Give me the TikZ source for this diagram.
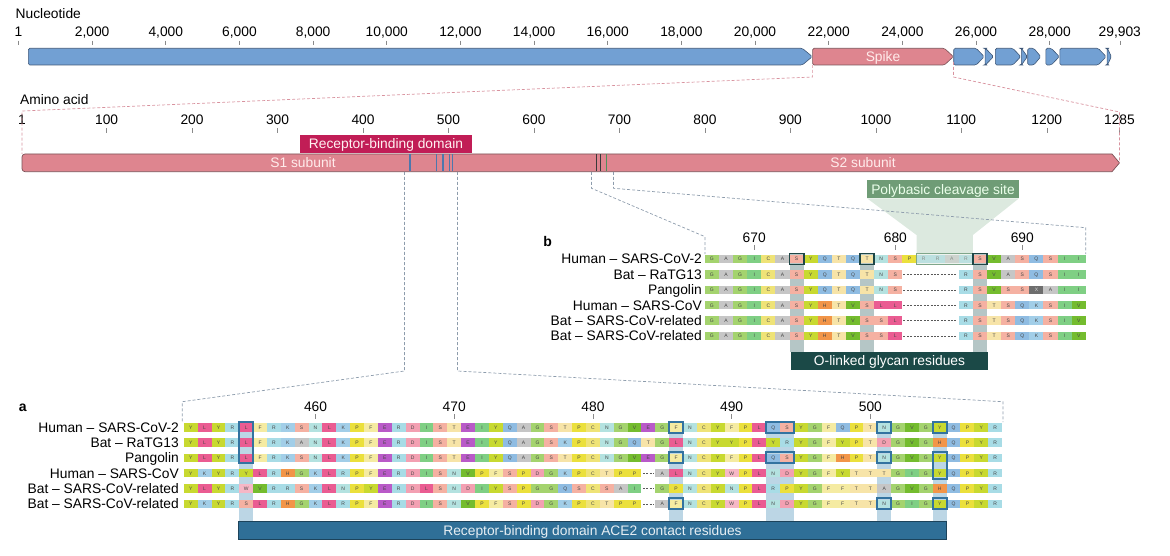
\documentclass[tikz,border=0pt]{standalone}
\usepackage{fontspec}
\setmainfont{Liberation Sans}
\definecolor{cA}{HTML}{C6C6C6}
\definecolor{cR}{HTML}{A8DCE6}
\definecolor{cN}{HTML}{B4E2E0}
\definecolor{cD}{HTML}{F3A0B2}
\definecolor{cC}{HTML}{EFE377}
\definecolor{cQ}{HTML}{8FBCE2}
\definecolor{cE}{HTML}{B95AC8}
\definecolor{cG}{HTML}{A4D36E}
\definecolor{cH}{HTML}{F29548}
\definecolor{cI}{HTML}{7FCF84}
\definecolor{cL}{HTML}{EA5C92}
\definecolor{cK}{HTML}{A2CEE8}
\definecolor{cF}{HTML}{F5EBA2}
\definecolor{cP}{HTML}{EBE03C}
\definecolor{cS}{HTML}{F5B1A2}
\definecolor{cT}{HTML}{F7E4A8}
\definecolor{cW}{HTML}{F6B7C6}
\definecolor{cY}{HTML}{C8D930}
\definecolor{cV}{HTML}{74BC2E}
\definecolor{cX}{HTML}{6E6E6E}
\definecolor{geneblue}{HTML}{72A0D3}
\definecolor{genedraw}{HTML}{3F5878}
\definecolor{spikepink}{HTML}{DE858F}
\definecolor{spikedraw}{HTML}{7A5257}
\definecolor{rbdred}{HTML}{C11D56}
\definecolor{pinkdash}{HTML}{D8929E}
\definecolor{graydash}{HTML}{8D9CAC}
\definecolor{colbga}{HTML}{BCD6E5}
\definecolor{boxablue}{HTML}{3373A0}
\definecolor{acebar}{HTML}{2F6F97}
\definecolor{colbgb}{HTML}{B5C6C6}
\definecolor{boxbteal}{HTML}{1E4646}
\definecolor{olinked}{HTML}{1B4947}
\definecolor{polygreen}{HTML}{6F9C76}
\definecolor{polylight}{HTML}{D6E5D9}
\definecolor{rrarbox}{HTML}{7FA68A}
\definecolor{tickgray}{HTML}{8A8A8A}
\definecolor{mkblue}{HTML}{4D77AD}
\definecolor{mkgreen}{HTML}{4F8F5C}
\definecolor{mkdark}{HTML}{3A3A3A}

\newcommand\seqrow[5]{%
  \foreach \r [count=\i from 0] in {#5}{%
    \if\r x\else
      \if\r X\def\tc{white!85!black}\else\def\tc{black!72}\fi
      \node[cell, minimum width=#3pt, fill=c\r, text=\tc, name=#1-\i] at ({#2+\i*#3},#4) {\r};
    \fi}}
\newcommand\gene[5]{\filldraw[fill=#4, draw=#5, line width=0.6pt, rounded corners=1.5pt]
  (#1,48.3) -- ({#2-#3},48.3) -- (#2,56.65) -- ({#2-#3},65) -- (#1,65) -- cycle;}

\begin{document}
\begin{tikzpicture}[x=1pt,y=-1pt]
\useasboundingbox (0,0) rectangle (1170,556);
\tikzset{
  lbl/.style={font=\fontsize{13.8}{15}\selectfont, inner sep=0pt, text height=9.9pt, text depth=0pt},
  cell/.style={inner sep=0pt, minimum height=8.4pt, font=\fontsize{5}{5}\selectfont, text height=3.6pt, text depth=0pt},
  tick/.style={draw=tickgray, line width=0.6pt},
  pinkdashed/.style={draw=pinkdash, line width=0.7pt, dash pattern=on 3pt off 2pt},
  graydashed/.style={draw=graydash, line width=0.7pt, dash pattern=on 3pt off 2pt},
  gapdash/.style={draw=black!65, line width=0.6pt, dash pattern=on 2pt off 1.4pt},
  boxa/.style={draw=boxablue, line width=1.9pt},
  boxb/.style={draw=boxbteal, line width=1.9pt},
  barlbl/.style={lbl, text=white!92!red}
}

% ---------------- nucleotide scale ----------------
\node[lbl, anchor=west] (nuclbl) at (15.5,13.3) {Nucleotide};
\node[lbl] (nt1) at (18.5,31.7) {1};
\draw[tick] (18.5,40.7) -- (18.5,45);
\foreach \n/\t in {2/2{,}000,4/4{,}000,6/6{,}000,8/8{,}000,10/10{,}000,12/12{,}000,14/14{,}000,16/16{,}000,18/18{,}000,20/20{,}000,22/22{,}000,24/24{,}000,26/26{,}000,28/28{,}000,29.903/29{,}903}{
  \node[lbl] (nt\n) at ({18.46+\n*36.83},31.7) {\t};
  \draw[tick] ({18.46+\n*36.83},40.7) -- ({18.46+\n*36.83},45);
}
% genes
\gene{28.3}{812.3}{10}{geneblue}{genedraw}
\gene{812.6}{953.4}{9}{spikepink}{spikedraw}
\node[barlbl] (spikelbl) at (883,56.65) {Spike};
\gene{953.7}{984.2}{8}{geneblue}{genedraw}
\gene{985.1}{993.5}{8}{geneblue}{genedraw}
\gene{995.3}{1020.8}{8}{geneblue}{genedraw}
\gene{1021.3}{1027.4}{6}{geneblue}{genedraw}
\gene{1027.7}{1040.8}{7}{geneblue}{genedraw}
\gene{1045.8}{1059.3}{8}{geneblue}{genedraw}
\gene{1059.8}{1106.2}{8}{geneblue}{genedraw}
\gene{1107.1}{1111.4}{4}{geneblue}{genedraw}

% ---------------- amino acid scale ----------------
\node[lbl, anchor=west] (aalbl) at (20,100) {Amino acid};
\node[lbl] (aa1) at (22,120) {1};
\foreach \a in {100,200,...,1200,1285}{
  \node[lbl] (aa\a) at ({22+(\a-1)*0.8547},120) {\a};
  \draw[tick] ({22+(\a-1)*0.8547},128.3) -- ({22+(\a-1)*0.8547},133.3);
}
\node[lbl, fill=rbdred, text=white!95!red, minimum width=172pt, minimum height=17.7pt] (rbd) at (386,143.9) {Receptor-binding domain};
\filldraw[fill=spikepink, draw=spikedraw, line width=0.7pt] (1112,154) [rounded corners=3pt] -- (22,154) -- (22,171.7) [sharp corners] -- (1112,171.7) -- (1119.5,162.85) -- cycle;
\foreach \a in {455,486,493.5,501,505}
  \draw[mkblue, line width=1.3pt] ({22+(\a-1)*0.8547},154.4) -- ({22+(\a-1)*0.8547},171.3);
\foreach \a in {673,678}
  \draw[mkdark, line width=1.3pt] ({22+(\a-1)*0.8547},154.4) -- ({22+(\a-1)*0.8547},171.3);
\draw[mkgreen, line width=1.5pt] ({22+(685-1)*0.8547},154.4) -- ({22+(685-1)*0.8547},171.3);
\node[barlbl] (s1lbl) at (303,162.85) {S1 subunit};
\node[barlbl] (s2lbl) at (863,162.85) {S2 subunit};

% spike -> amino acid connectors
\coordinate (spkL) at (812.6,65);
\coordinate (spkL2) at (812.6,77);
\coordinate (aaL) at (22,111);
\coordinate (aaL2) at (22,154);
\coordinate (spkR) at (953.4,62);
\coordinate (spkR2) at (953.4,77);
\coordinate (aaR) at (1119.5,112);
\coordinate (aaR2) at (1119.5,162.85);
\draw[pinkdashed] (spkL) -- (spkL2) -- (aaL) -- (aaL2);
\draw[pinkdashed] (spkR) -- (spkR2) -- (aaR) -- (aaR2);

% ---------------- panel b ----------------
\node[font=\fontsize{14}{15}\selectfont\bfseries, inner sep=0pt] (blbl) at (547.6,241.7) {b};
\foreach \i in {6,11,19}
  \fill[colbgb] ({711.9+\i*14.11-7.055},253) rectangle ({711.9+\i*14.11+7.055},351.7);
\seqrow{b1}{711.9}{14.11}{259}{G,A,G,I,C,A,S,Y,Q,T,Q,T,N,S,P,R,R,A,R,S,V,A,S,Q,S,I,I}
\seqrow{b2}{711.9}{14.11}{274.4}{G,A,G,I,C,A,S,Y,Q,T,Q,T,N,S,x,x,x,x,R,S,V,A,S,Q,S,I,I}
\seqrow{b3}{711.9}{14.11}{289.8}{G,A,G,I,C,A,S,Y,Q,T,Q,T,N,S,x,x,x,x,R,S,V,S,S,X,A,I,I}
\seqrow{b4}{711.9}{14.11}{305.2}{G,A,G,I,C,A,S,Y,H,T,V,S,L,L,x,x,x,x,R,S,T,S,Q,K,S,I,V}
\seqrow{b5}{711.9}{14.11}{320.6}{G,A,G,I,C,A,S,Y,H,T,V,S,S,L,x,x,x,x,R,S,T,S,Q,K,S,I,V}
\seqrow{b6}{711.9}{14.11}{336}{G,A,G,I,C,A,S,Y,H,T,V,S,S,L,x,x,x,x,R,S,T,S,Q,K,S,I,V}
\foreach \y in {274.4,289.8,305.2,320.6,336}
  \draw[gapdash] ({711.9+14*14.11-6},\y) -- ({711.9+17*14.11+6},\y);
% polybasic funnel
\fill[polylight, opacity=0.85] (867,198.3) -- (1019,198.3) -- (972.9,235) -- (972.9,253.5) -- (916.5,253.5) -- (916.5,235) -- cycle;
\fill[polylight, opacity=0.45] (916.5,253.5) rectangle (972.9,264.5);
\node[lbl, fill=polygreen, text=white!92!green, minimum width=152pt, minimum height=18.3pt] (poly) at (943,189.2) {Polybasic cleavage site};
\draw[draw=rrarbox, line width=1.4pt] ({711.9+15*14.11-7.055},253.5) rectangle ({711.9+18*14.11+7.055},264.5);
\foreach \i in {6,11,19}
  \draw[boxb] ({711.9+\i*14.11-7.055},253.5) rectangle ({711.9+\i*14.11+7.055},264.5);
\node[lbl, fill=olinked, text=white, minimum width=197pt, minimum height=18.3pt] (olink) at (889.5,360.85) {O-linked glycan residues};
\foreach \p/\n in {3/670,13/680,22/690}{
  \node[lbl] (bt\n) at ({711.9+\p*14.11},237.7) {\n};
  \draw[tick] ({711.9+\p*14.11},245) -- ({711.9+\p*14.11},250);
}
\foreach \y/\t [count=\k] in {259/Human – SARS-CoV-2,274.4/Bat – RaTG13,289.8/Pangolin,305.2/Human – SARS-CoV,320.6/Bat – SARS-CoV-related,336/Bat – SARS-CoV-related}
  \node[lbl, anchor=east] (bname\k) at (702,\y) {\t};

% aa -> panel b connectors
\coordinate (pbL0) at (591.5,172);
\coordinate (pbL1) at (591.5,188.3);
\coordinate (pbL2) at (705,236.7);
\coordinate (pbL3) at (705,254);
\coordinate (pbR0) at (613.5,172);
\coordinate (pbR1) at (613.5,188.3);
\coordinate (pbR2) at (1085.8,227.7);
\coordinate (pbR3) at (1085.8,254);
\draw[graydashed] (pbL0) -- (pbL1) -- (pbL2) -- (pbL3);
\draw[graydashed] (pbR0) -- (pbR1) -- (pbR2) -- (pbR3);

% ---------------- panel a ----------------
\node[font=\fontsize{14}{15}\selectfont\bfseries, inner sep=0pt] (albl) at (22.7,408.3) {a};
\foreach \i/\j in {4/4,35/35,42/43,50/50,54/54}
  \fill[colbga] ({190.7+\i*13.87-6.935},421) rectangle ({190.7+\j*13.87+6.935},521.7);
\seqrow{a1}{190.7}{13.87}{427.3}{Y,L,Y,R,L,F,R,K,S,N,L,K,P,F,E,R,D,I,S,T,E,I,Y,Q,A,G,S,T,P,C,N,G,V,E,G,F,N,C,Y,F,P,L,Q,S,Y,G,F,Q,P,T,N,G,V,G,Y,Q,P,Y,R}
\seqrow{a2}{190.7}{13.87}{442.6}{Y,L,Y,R,L,F,R,K,A,N,L,K,P,F,E,R,D,I,S,T,E,I,Y,Q,A,G,S,K,P,C,N,G,Q,T,G,L,N,C,Y,Y,P,L,Y,R,Y,G,F,Y,P,T,D,G,V,G,H,Q,P,Y,R}
\seqrow{a3}{190.7}{13.87}{457.9}{Y,L,Y,R,L,F,R,K,S,N,L,K,P,F,E,R,D,I,S,T,E,I,Y,Q,A,G,S,T,P,C,N,G,V,E,G,F,N,C,Y,F,P,L,Q,S,Y,G,F,H,P,T,N,G,V,G,Y,Q,P,Y,R}
\seqrow{a4}{190.7}{13.87}{473.2}{Y,K,Y,R,Y,L,R,H,G,K,L,R,P,F,E,R,D,I,S,N,V,P,F,S,P,D,G,K,P,C,T,P,P,x,A,L,N,C,Y,W,P,L,N,D,Y,G,F,Y,T,T,T,G,I,G,Y,Q,P,Y,R}
\seqrow{a5}{190.7}{13.87}{488.5}{Y,L,Y,R,W,V,R,R,S,K,L,N,P,Y,E,R,D,L,S,N,D,I,Y,S,P,G,G,Q,S,C,S,A,I,x,G,P,N,C,Y,N,P,L,R,P,Y,G,F,F,T,T,A,G,V,G,H,Q,P,Y,R}
\seqrow{a6}{190.7}{13.87}{503.8}{Y,K,Y,R,S,L,R,H,G,K,L,R,P,F,E,R,D,I,S,N,V,P,F,S,P,D,G,K,P,C,T,P,P,x,A,F,N,C,Y,W,P,L,N,D,Y,G,F,F,T,T,N,G,I,G,Y,Q,P,Y,R}
\foreach \y in {473.2,488.5,503.8}
  \draw[gapdash] ({190.7+33*13.87-5.5},\y) -- ({190.7+33*13.87+5.5},\y);
\foreach \i/\j/\p/\q in {4/4/1/3,35/35/1/1,35/35/3/3,35/35/6/6,42/43/1/1,42/43/3/3,50/50/1/1,50/50/3/3,50/50/6/6,54/54/1/1,54/54/3/4,54/54/6/6}
  \draw[boxa] ({190.7+\i*13.87-6.935},{427.3+(\p-1)*15.3-5.5}) rectangle ({190.7+\j*13.87+6.935},{427.3+(\q-1)*15.3+5.5});
\node[lbl, fill=acebar, draw=acebar!60!black, line width=0.6pt, text=white!88!acebar, minimum width=708.4pt, minimum height=17.8pt] (ace) at (592.5,530.6) {Receptor-binding domain ACE2 contact residues};
\foreach \p/\n in {9/460,19/470,29/480,39/490,49/500}{
  \node[lbl] (at\n) at ({190.7+\p*13.87},406.7) {\n};
  \draw[tick] ({190.7+\p*13.87},414) -- ({190.7+\p*13.87},419);
}
\foreach \y/\t [count=\k] in {427.3/Human – SARS-CoV-2,442.6/Bat – RaTG13,457.9/Pangolin,473.2/Human – SARS-CoV,488.5/Bat – SARS-CoV-related,503.8/Bat – SARS-CoV-related}
  \node[lbl, anchor=east] (aname\k) at (179,\y) {\t};

% aa -> panel a connectors
\coordinate (paL0) at (404.5,172);
\coordinate (paL1) at (404.5,371);
\coordinate (paL2) at (182.3,401.7);
\coordinate (paL3) at (182.3,422);
\coordinate (paR0) at (457.5,172);
\coordinate (paR1) at (457.5,371);
\coordinate (paR2) at (1003,401.7);
\coordinate (paR3) at (1003,422);
\draw[graydashed] (paL0) -- (paL1) -- (paL2) -- (paL3);
\draw[graydashed] (paR0) -- (paR1) -- (paR2) -- (paR3);
\end{tikzpicture}
\end{document}
